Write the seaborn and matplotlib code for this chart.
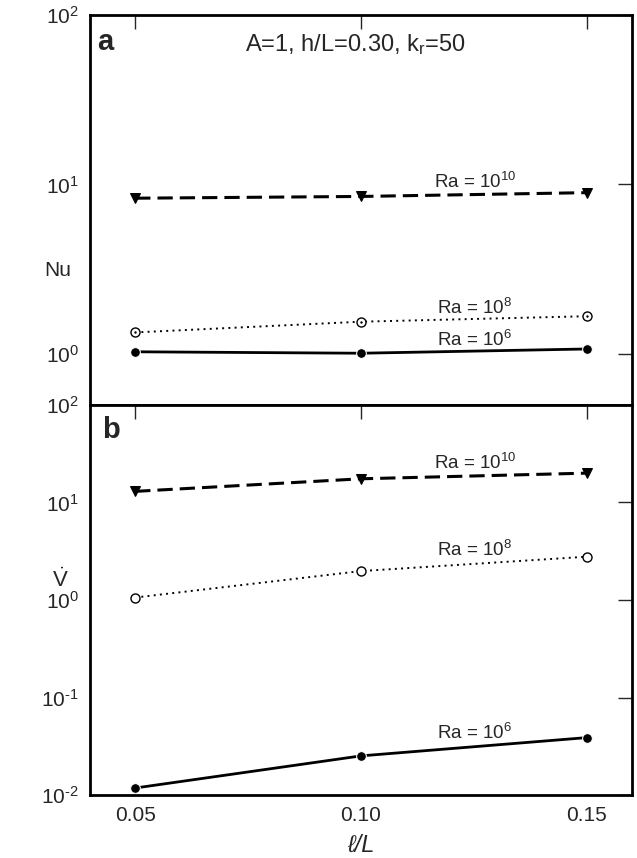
import numpy as np
import seaborn as sns
import matplotlib.pyplot as plt
from matplotlib.ticker import LogLocator, FuncFormatter, NullLocator

# data
ell = [0.05, 0.10, 0.15]
nu_ra1e10 = [8.3, 8.5, 8.95]
nu_ra1e8 = [1.34, 1.55, 1.67]
nu_ra1e6 = [1.03, 1.01, 1.07]
v_ra1e10 = [13.0, 17.5, 20.0]
v_ra1e8 = [1.06, 1.98, 2.78]
v_ra1e6 = [0.0118, 0.0252, 0.0388]
ra_labels = ['Ra = 10$^{10}$', 'Ra = 10$^{8}$', 'Ra = 10$^{6}$']

sns.set_style('white')
plt.rcParams['font.family'] = ['Liberation Sans', 'DejaVu Sans']
plt.rcParams['mathtext.fontset'] = 'custom'
plt.rcParams['mathtext.rm'] = 'Liberation Sans'
plt.rcParams['mathtext.it'] = 'Liberation Sans:italic'
plt.rcParams['mathtext.default'] = 'regular'
plt.rcParams['axes.unicode_minus'] = False


def decade(v, pos):
    e = int(round(np.log10(v)))
    if e < 0:
        return r'10$^{\text{-}%d}$' % (-e)
    return r'10$^{%d}$' % e


fig = plt.figure(figsize=(6.37, 8.58), dpi=100)
ax1 = fig.add_axes([0.1413, 0.528, 0.8507, 0.4545])
ax2 = fig.add_axes([0.1413, 0.0734, 0.8507, 0.4546], sharex=ax1)

def draw(ax, y10, y8, y6, open_dot):
    sns.lineplot(x=ell, y=y10, ax=ax, color='k', lw=2.2, linestyle=(0, (5, 2.3)),
                 marker='v', markersize=7, markeredgecolor='k')
    sns.lineplot(x=ell, y=y8, ax=ax, color='k', lw=1.4, linestyle=(0, (1, 2.2)),
                 marker='o', markersize=6.5, markerfacecolor='white', markeredgecolor='k',
                 markeredgewidth=1.0)
    if open_dot:
        sns.scatterplot(x=ell, y=y8, ax=ax, color='k', s=3, linewidth=0, zorder=5)
    sns.lineplot(x=ell, y=y6, ax=ax, color='k', lw=2.0, marker='o', markersize=7)
    ax.set_yscale('log')
    ax.set_xlim(0.04, 0.16)
    ax.set_xticks(ell)
    ax.set_xticklabels(['0.05', '0.10', '0.15'])
    ax.yaxis.set_major_locator(LogLocator(base=10, numticks=10))
    ax.yaxis.set_major_formatter(FuncFormatter(decade))
    ax.yaxis.set_minor_locator(NullLocator())
    ax.tick_params(direction='in', length=10, width=1.0, labelsize=15,
                   top=True, right=True, pad=8)
    for s in ax.spines.values():
        s.set_linewidth(2.0)
        s.set_color('k')

draw(ax1, nu_ra1e10, nu_ra1e8, nu_ra1e6, True)
draw(ax2, v_ra1e10, v_ra1e8, v_ra1e6, False)

ax1.set_ylim(0.5, 100)
ax2.set_ylim(0.01, 100)
ax1.tick_params(labelbottom=False)

# series labels
for ax, ys in [(ax1, [10.3, 1.87, 1.21]), (ax2, [25.5, 3.26, 0.0433])]:
    for lab, yy in zip(ra_labels, ys):
        ax.text(0.1252, yy, lab, ha='center', va='center', fontsize=13.5)

ax1.text(0.014, 0.93, 'a', transform=ax1.transAxes, fontsize=21, fontweight='bold',
         va='center')
ax2.text(0.022, 0.935, 'b', transform=ax2.transAxes, fontsize=21, fontweight='bold',
         va='center')
ax1.text(0.49, 0.925, 'A=1, h/L=0.30, k$_r$=50', transform=ax1.transAxes,
         fontsize=17, ha='center', va='center')

ax1.set_ylabel('Nu', rotation=0, fontsize=15, ha='center', va='center')
ax1.yaxis.set_label_coords(-0.059, 0.346)
ax2.set_ylabel(r'$\dot{V}$', rotation=0, fontsize=16, ha='center', va='center')
ax2.yaxis.set_label_coords(-0.055, 0.55)
ax2.set_xlabel('ℓ/L', fontsize=17, labelpad=6, style='italic')

fig.savefig('out.png', dpi=100)
